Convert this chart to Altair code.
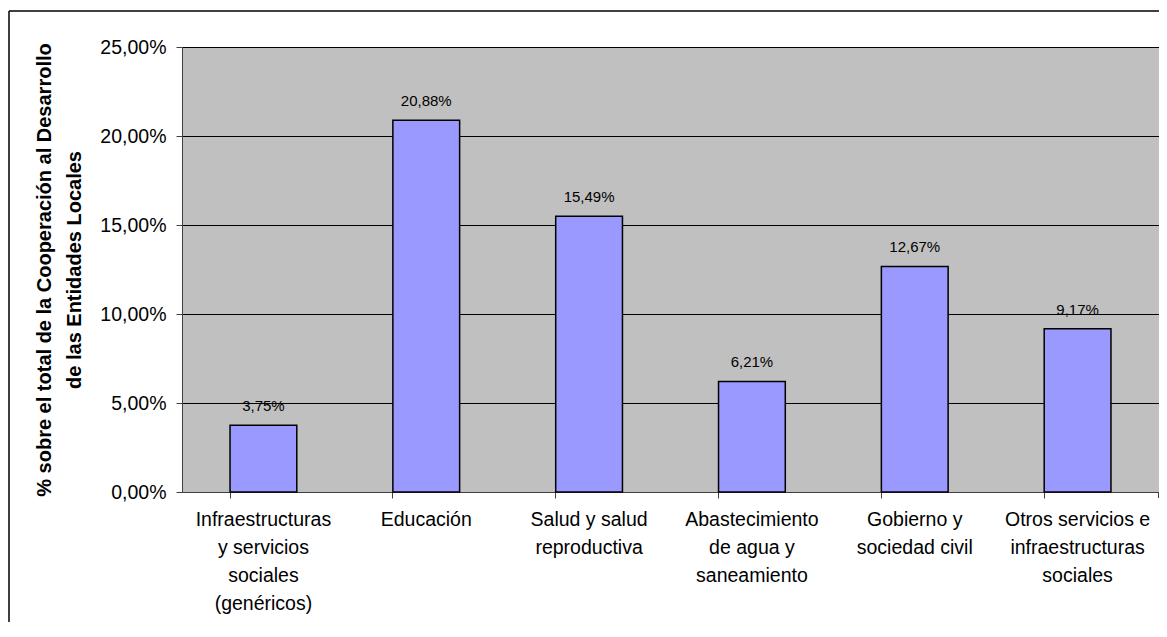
import altair as alt
import pandas as pd

categories = [
    "Infraestructuras\ny servicios\nsociales\n(genéricos)",
    "Educación",
    "Salud y salud\nreproductiva",
    "Abastecimiento\nde agua y\nsaneamiento",
    "Gobierno y\nsociedad civil",
    "Otros servicios e\ninfraestructuras\nsociales",
]
values = [0.0375, 0.2088, 0.1549, 0.0621, 0.1267, 0.0917]
y_ticks = [0.0, 0.05, 0.10, 0.15, 0.20, 0.25]
y_title = ["% sobre el total de la Cooperación al Desarrollo", "de las Entidades Locales"]

df = pd.DataFrame({"cat": categories, "val": values})

FONT = "Liberation Sans"
W, H = 977, 445
PAD = {"left": 174, "top": 39, "right": 0, "bottom": 130}

x_enc = alt.X(
    "cat:N",
    sort=None,
    scale=alt.Scale(paddingInner=0.59, paddingOuter=0.295),
    axis=alt.Axis(
        title=None,
        labelAngle=0,
        labelExpr="split(datum.label, '\\n')",
        labelFontSize=19.5,
        labelLineHeight=28,
        labelBaseline="top",
        labelPadding=12,
        labelColor="black",
        labelFont=FONT,
        bandPosition=0,
        tickSize=6,
        tickColor="#404040",
        domainColor="#404040",
        grid=False,
        labelLimit=300,
    ),
)

y_enc = alt.Y(
    "val:Q",
    scale=alt.Scale(domain=[0, 0.25], nice=False),
    axis=alt.Axis(
        title=y_title,
        values=y_ticks,
        labelExpr="replace(format(datum.value, '.2%'), '.', ',')",
        labelFontSize=19.5,
        labelFont=FONT,
        labelColor="black",
        labelPadding=10,
        tickSize=6,
        tickColor="#404040",
        domainColor="#404040",
        grid=True,
        gridColor="black",
        gridWidth=1,
        titleFont=FONT,
        titleFontSize=20,
        titleFontWeight="bold",
        titleColor="black",
        titleLineHeight=30,
        titlePadding=15,
    ),
)

bars = alt.Chart(df).mark_bar(
    fill="#9999ff", stroke="black", strokeWidth=1.5
).encode(x=x_enc, y=y_enc)

labels = alt.Chart(df).transform_calculate(
    lbl="replace(format(datum.val, '.2%'), '.', ',')"
).mark_text(
    baseline="middle", dy=-19, fontSize=15, font=FONT, color="black"
).encode(x=alt.X("cat:N", sort=None), y="val:Q", text="lbl:N")

end_tick = alt.Chart(alt.Data(values=[{}])).mark_rule(
    color="#404040", strokeWidth=1
).encode(x=alt.value(W - 0.5), y=alt.value(H), y2=alt.value(H + 6))

# outer chart frame (top and left edges; the others fall outside the picture)
frame_top = alt.Chart(alt.Data(values=[{}])).mark_rule(
    color="black", strokeWidth=1.5
).encode(x=alt.value(-173), x2=alt.value(W), y=alt.value(-36))
frame_left = alt.Chart(alt.Data(values=[{}])).mark_rule(
    color="black", strokeWidth=1.5
).encode(x=alt.value(-173), y=alt.value(-36), y2=alt.value(H + PAD["bottom"]))

chart = alt.layer(bars, labels, end_tick, frame_top, frame_left).properties(
    width=W,
    height=H,
    autosize=alt.AutoSizeParams(type="none"),
    padding=PAD,
    background="white",
).configure_view(
    fill="#c0c0c0", stroke="#808080", strokeWidth=1
)

chart.save("out.html", embed_options={"renderer": "svg", "actions": False})
